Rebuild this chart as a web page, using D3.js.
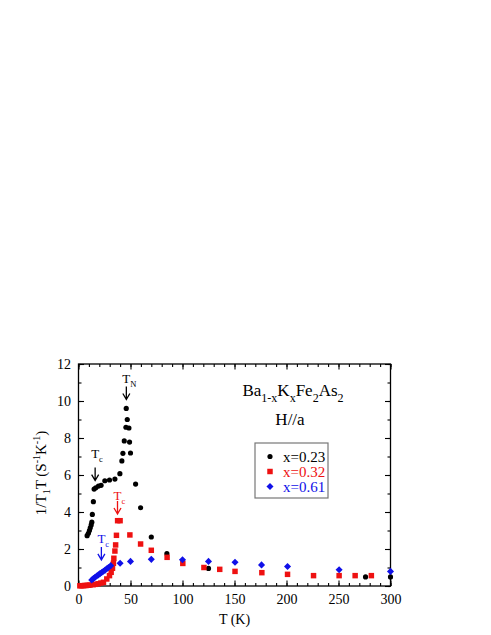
<!DOCTYPE html>
<html>
<head>
  <meta charset="utf-8">
  <title>Ba1-xKxFe2As2 1/T1T</title>
  <style>
    body { margin: 0; background: #fff; }
    text { font-family: "Liberation Serif", "Times New Roman", serif; }
  </style>
</head>
<body>
<script src="https://d3js.org/d3.v7.min.js"></script>
<script>
  var width = 491;
  var height = 635;

  // data: [T (K), 1/T1T]
  var x023 = [[8.3, 2.72], [9.5, 2.85], [10.5, 3.0], [11.3, 3.15], [12.2, 3.3], [12.8, 3.45],
    [13.3, 3.87], [14.3, 4.56], [15, 5.24], [16.6, 5.31], [19.2, 5.4], [21.7, 5.44],
    [25.3, 5.69], [29.8, 5.73], [35, 5.78], [39.8, 6.07], [41.7, 6.76], [42.7, 7.17],
    [44, 7.84], [45.6, 8.58], [45.9, 9.6], [46.9, 9.0], [48.5, 8.54], [49.1, 7.78],
    [50, 7.19], [54.9, 5.51], [59.7, 4.23], [70, 2.65], [85, 1.75], [125, 0.95],
    [276, 0.49], [300, 0.49]];
  var x032 = [[1.3, 0.01], [2.8, 0.015], [4.4, 0.02], [6, 0.025], [7.6, 0.03], [9.3, 0.04],
    [11, 0.05], [14, 0.07], [16.3, 0.09], [18.9, 0.12], [21.5, 0.16], [24, 0.2],
    [27.2, 0.38], [29.8, 0.56], [31.4, 0.74], [32.7, 0.96], [33.6, 1.23], [34, 1.5],
    [35, 1.89], [35.7, 2.22], [36.5, 2.74], [37.6, 3.53], [40, 3.53], [49.4, 2.76],
    [59.7, 2.27], [70, 1.93], [85.2, 1.55], [100.3, 1.22], [120.6, 1.0], [135.8, 0.9],
    [150.5, 0.79], [176.3, 0.72], [201, 0.63], [226, 0.56], [250.6, 0.56], [266, 0.56],
    [281.6, 0.56]];
  var x061 = [[12.7, 0.32], [14.3, 0.4], [15.9, 0.47], [17.5, 0.54], [19.1, 0.6], [20.7, 0.67],
    [22.3, 0.73], [24, 0.8], [25.6, 0.86], [27.2, 0.93], [28.8, 1.0], [31, 1.1],
    [40, 1.23], [50, 1.33], [70, 1.44], [100, 1.42], [125, 1.33], [150.5, 1.28],
    [176, 1.14], [201, 1.05], [250.6, 0.88], [300, 0.79]];

  var seriesNames = ['x=0.23', 'x=0.32', 'x=0.61'];
  var seriesColors = ['#000000', '#ee1111', '#1010e8'];

  var xTicks = [0, 50, 100, 150, 200, 250, 300];
  var xMinor = d3.range(0, 301, 10);
  var yTicks = [0, 2, 4, 6, 8, 10, 12];
  var yMinor = d3.range(0, 12.01, 1);

  // annotation arrows: label subscript, T, arrow tip value, colour index
  var marks = [
    { sub: 'N', t: 46, v: 10.08, gap: 17, c: 0 },
    { sub: 'c', t: 16, v: 5.70, gap: 23, c: 0 },
    { sub: 'c', t: 37.5, v: 3.89, gap: 14, c: 1 },
    { sub: 'c', t: 22, v: 1.41, gap: 17, c: 2 }
  ];

  var x = d3.scaleLinear().domain([0, 300]).range([78.5, 390.5]);
  var y = d3.scaleLinear().domain([0, 12]).range([586, 364]);

  var svg = d3.select('body')
    .append('svg')
      .attr('width', width)
      .attr('height', height);

  // axes, ticks pointing inwards on all four sides
  function styleAxis(g) {
    g.select('.domain').remove();
    g.selectAll('line').attr('stroke', '#000').attr('stroke-width', 1.1);
    g.selectAll('text')
      .attr('font-family', '"Liberation Serif", serif')
      .attr('font-size', 14)
      .attr('fill', '#000');
  }

  svg.append('g')
    .attr('transform', 'translate(0,' + y(0) + ')')
    .call(d3.axisBottom(x).tickValues(xMinor).tickSize(-3).tickFormat(''))
    .call(styleAxis);
  svg.append('g')
    .attr('transform', 'translate(0,' + y(0) + ')')
    .call(d3.axisBottom(x).tickValues(xTicks).tickSize(-5.5).tickPadding(8).tickFormat(d3.format('d')))
    .call(styleAxis);
  svg.append('g')
    .attr('transform', 'translate(0,' + y(12) + ')')
    .call(d3.axisTop(x).tickValues(xMinor).tickSize(-3).tickFormat(''))
    .call(styleAxis);
  svg.append('g')
    .attr('transform', 'translate(0,' + y(12) + ')')
    .call(d3.axisTop(x).tickValues(xTicks).tickSize(-5.5).tickFormat(''))
    .call(styleAxis);

  svg.append('g')
    .attr('transform', 'translate(' + x(0) + ',0)')
    .call(d3.axisLeft(y).tickValues(yMinor).tickSize(-3).tickFormat(''))
    .call(styleAxis);
  svg.append('g')
    .attr('transform', 'translate(' + x(0) + ',0)')
    .call(d3.axisLeft(y).tickValues(yTicks).tickSize(-5.5).tickPadding(7.5).tickFormat(d3.format('d')))
    .call(styleAxis);
  svg.append('g')
    .attr('transform', 'translate(' + x(300) + ',0)')
    .call(d3.axisRight(y).tickValues(yMinor).tickSize(-3).tickFormat(''))
    .call(styleAxis);
  svg.append('g')
    .attr('transform', 'translate(' + x(300) + ',0)')
    .call(d3.axisRight(y).tickValues(yTicks).tickSize(-5.5).tickFormat(''))
    .call(styleAxis);

  svg.append('rect')
    .attr('x', x(0))
    .attr('y', y(12))
    .attr('width', x(300) - x(0))
    .attr('height', y(0) - y(12))
    .attr('fill', 'none')
    .attr('stroke', '#000')
    .attr('stroke-width', 1.3);

  // axis titles
  svg.append('text')
    .attr('x', (x(0) + x(300)) / 2)
    .attr('y', 624)
    .attr('text-anchor', 'middle')
    .attr('font-size', 14)
    .text('T (K)');

  var ylab = svg.append('text')
    .attr('transform', 'translate(46,' + (y(6) - 2) + ') rotate(-90)')
    .attr('text-anchor', 'middle')
    .attr('font-size', 15);
  ylab.append('tspan').text('1/T');
  ylab.append('tspan').attr('font-size', 10).attr('dy', 4).text('1');
  ylab.append('tspan').attr('dy', -4).text('T (S');
  ylab.append('tspan').attr('font-size', 10).attr('dy', -6).text('-1');
  ylab.append('tspan').attr('dy', 6).text('K');
  ylab.append('tspan').attr('font-size', 10).attr('dy', -6).text('-1');
  ylab.append('tspan').attr('dy', 6).text(')');

  // data points
  var circle = d3.symbol(d3.symbolCircle, 21);
  var square = d3.symbol(d3.symbolSquare, 30);
  var diamond = d3.symbol(d3.symbolSquare, 25);

  svg.append('g').selectAll('path')
    .data(x023)
    .enter()
    .append('path')
      .attr('d', circle)
      .attr('transform', function(d) { return 'translate(' + x(d[0]) + ',' + y(d[1]) + ')'; })
      .attr('fill', seriesColors[0]);

  svg.append('g').selectAll('path')
    .data(x032)
    .enter()
    .append('path')
      .attr('d', square)
      .attr('transform', function(d) { return 'translate(' + x(d[0]) + ',' + y(d[1]) + ')'; })
      .attr('fill', seriesColors[1]);

  svg.append('g').selectAll('path')
    .data(x061)
    .enter()
    .append('path')
      .attr('d', diamond)
      .attr('transform', function(d) { return 'translate(' + x(d[0]) + ',' + y(d[1]) + ') rotate(45)'; })
      .attr('fill', seriesColors[2]);

  // T_N / T_c arrows
  var ann = svg.append('g').selectAll('g')
    .data(marks)
    .enter()
    .append('g')
      .attr('transform', function(d) { return 'translate(' + x(d.t) + ',' + y(d.v) + ')'; });

  ann.append('path')
    .attr('d', 'M0,-13V0M-3.5,-6L0,0L3.5,-6')
    .attr('fill', 'none')
    .attr('stroke', function(d) { return seriesColors[d.c]; })
    .attr('stroke-width', 1.3);

  var annText = ann.append('text')
    .attr('x', -4)
    .attr('y', function(d) { return -d.gap; })
    .attr('font-size', 13)
    .attr('fill', function(d) { return seriesColors[d.c]; });
  annText.append('tspan').text('T');
  annText.append('tspan')
    .attr('font-size', 8.5)
    .attr('dy', 4)
    .text(function(d) { return d.sub; });

  // compound name and field direction
  var title = svg.append('text')
    .attr('x', 293)
    .attr('y', 396)
    .attr('text-anchor', 'middle')
    .attr('font-size', 17);
  var parts = [['Ba', 0], ['1-x', 1], ['K', 0], ['x', 1], ['Fe', 0], ['2', 1], ['As', 0], ['2', 1]];
  parts.forEach(function(p, i) {
    var prev = i > 0 ? parts[i - 1][1] : 0;
    title.append('tspan')
      .attr('font-size', p[1] ? 12 : 17)
      .attr('dy', (p[1] - prev) * 6)
      .text(p[0]);
  });

  svg.append('text')
    .attr('x', 290)
    .attr('y', 425)
    .attr('text-anchor', 'middle')
    .attr('font-size', 17)
    .text('H//a');

  // legend
  var legend = svg.append('g');
  legend.append('rect')
    .attr('x', 255)
    .attr('y', 443)
    .attr('width', 73)
    .attr('height', 55)
    .attr('fill', '#fff')
    .attr('stroke', '#777')
    .attr('stroke-width', 1.2);

  var shapes = [circle, square, diamond];
  var rows = legend.selectAll('g.row')
    .data(seriesNames)
    .enter()
    .append('g')
      .attr('class', 'row')
      .attr('transform', function(d, i) { return 'translate(270,' + (456.5 + i * 15) + ')'; });

  rows.append('path')
    .attr('d', function(d, i) { return shapes[i](); })
    .attr('transform', function(d, i) { return i === 2 ? 'rotate(45)' : null; })
    .attr('fill', function(d, i) { return seriesColors[i]; });

  rows.append('text')
    .attr('x', 13)
    .attr('y', 5)
    .attr('font-size', 15)
    .attr('fill', function(d, i) { return seriesColors[i]; })
    .text(function(d) { return d; });
</script>
</body>
</html>
